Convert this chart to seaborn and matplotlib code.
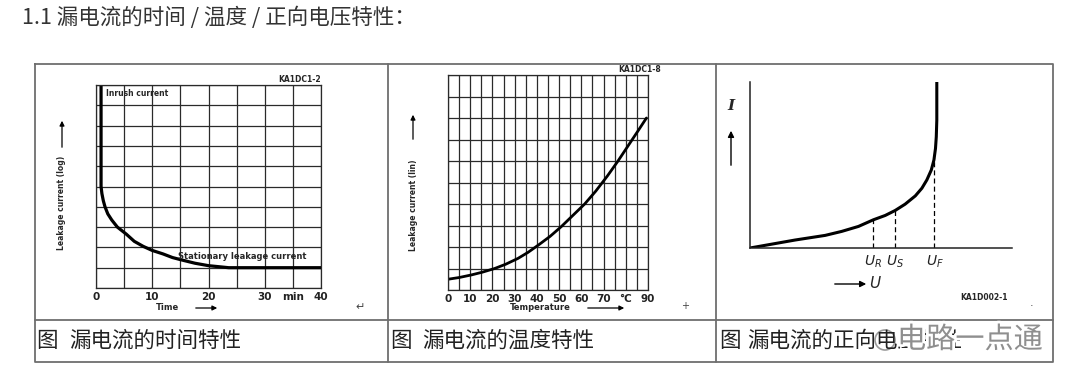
import numpy as np
import pandas as pd
import matplotlib
matplotlib.use("Agg")
import matplotlib.pyplot as plt
import seaborn as sns
from matplotlib import patheffects as pe
from matplotlib.patches import Circle

# ---------------- data ----------------
# chart 1: leakage current vs time (grid units)
time_min = [0.9, 0.9, 1.05, 1.3, 1.6, 2.1, 2.8, 3.8, 5.4, 6.8, 8.4, 10.0, 11.9, 13.6, 15.4, 17.6, 20.0, 23.6, 30.0, 40.0]
leak_time = [10.0, 5.0, 4.65, 4.3, 4.0, 3.65, 3.35, 3.0, 2.65, 2.3, 2.05, 1.85, 1.68, 1.5, 1.37, 1.22, 1.1, 1.0, 1.0, 1.0]

# chart 2: leakage current vs temperature (grid units)
temp_c = [0, 5, 10.5, 15.5, 21, 26, 31.5, 36, 40.8, 46, 51, 56, 61.5, 66.5, 71.7, 76.5, 81, 85.5, 89.3]
leak_temp = [0.5, 0.58, 0.7, 0.83, 1.0, 1.2, 1.47, 1.75, 2.1, 2.5, 2.95, 3.45, 4.0, 4.6, 5.3, 6.0, 6.7, 7.4, 8.0]

# chart 3: forward current vs forward voltage
volt_u = [0, 1.72, 2.87, 3.5, 4.14, 4.71, 5.16, 5.54, 5.92, 6.31, 6.56, 6.75, 6.92, 7.02, 7.08, 7.11, 7.13, 7.13]
curr_i = [0, 0.48, 0.76, 1.0, 1.3, 1.7, 1.96, 2.26, 2.64, 3.14, 3.6, 4.1, 4.7, 5.3, 6.0, 6.7, 7.7, 10.0]
mark_u = [4.71, 5.54, 7.04]
mark_i = [1.7, 2.26, 5.4]
mark_labels = ['$U_R$', '$U_S$', '$U_F$']

time_ticks = [0, 5, 10, 15, 20, 25, 30, 35, 40]
time_ticklabels = ['0', '', '10', '', '20', '', '30', 'min', '40']
temp_ticks = list(range(0, 95, 5))
temp_ticklabels = ['0', '', '10', '', '20', '', '30', '', '40', '', '50', '',
                   '60', '', '70', '', '°C', '', '90']
row_ticks = list(range(0, 11))

title_text = '1.1 漏电流的时间 / 温度 / 正向电压特性：'
captions = ['漏电流的时间特性', '漏电流的温度特性', '漏电流的正向电压特性']
watermark = '电路一点通'

# ---------------- style ----------------
sns.set_style("white")
plt.rcParams['font.family'] = ['Noto Sans CJK SC', 'DejaVu Sans']

W, H = 1080, 384
fig = plt.figure(figsize=(W / 100, H / 100), dpi=100)
fig.patch.set_facecolor('white')


def rect(l, t, r, b):
    return [l / W, 1 - b / H, (r - l) / W, (b - t) / H]


# background axes in pixel coordinates (table frame, captions, labels)
bg = fig.add_axes([0, 0, 1, 1], zorder=-1)
bg.set_xlim(0, W)
bg.set_ylim(H, 0)
bg.axis('off')

frame_c = '#6e6e6e'
bg.plot([35, 1053, 1053, 35, 35], [64, 64, 362, 362, 64], color=frame_c, lw=1.3)
bg.plot([35, 1053], [320, 320], color=frame_c, lw=1.3)
for xv in (388, 716):
    bg.plot([xv, xv], [64, 362], color=frame_c, lw=1.3)

bg.text(22, 18, title_text, fontsize=15.5, color='#333333', va='center', ha='left')

for (xa, xb), cap in zip([(36, 69), (390, 422), (719, 747)], captions):
    bg.text(xa, 341, '图', fontsize=15.5, color='#222222', va='center', ha='left')
    bg.text(xb, 341, cap, fontsize=15.5, color='#222222', va='center', ha='left')

# watermark
bg.add_patch(Circle((885, 340), 10, facecolor='white', edgecolor='#9a9a9a', lw=1.2))
bg.text(897, 340, watermark, fontsize=21, color='#8f8f8f', va='center', ha='left',
        path_effects=[pe.withStroke(linewidth=4, foreground='white')])

grid_c = '#2a2a2a'


def grid_axes(r, xlim, ticks, ticklabels):
    ax = fig.add_axes(r)
    ax.set_facecolor('none')
    ax.set_xlim(*xlim)
    ax.set_ylim(0, 10)
    ax.set_xticks(ticks)
    ax.set_xticklabels(ticklabels, fontsize=7.5, fontweight='bold', color='#222222',
                       family=['DejaVu Sans'])
    ax.set_yticks(row_ticks)
    ax.set_yticklabels([])
    ax.tick_params(length=0, pad=3)
    ax.grid(True, color=grid_c, lw=0.9)
    for s in ax.spines.values():
        s.set_visible(True)
        s.set_color(grid_c)
        s.set_linewidth(0.9)
    return ax


# ---------------- chart 1 ----------------
ax1 = grid_axes(rect(96, 85, 321, 288), (0, 40), time_ticks, time_ticklabels)
df1 = pd.DataFrame({'t': time_min, 'i': leak_time})
sns.lineplot(data=df1, x='t', y='i', ax=ax1, color='black', lw=2.3,
             estimator=None, sort=False)
ax1.set_xlabel('')
ax1.set_ylabel('')
ax1.text(1.8, 9.6, 'Inrush current', fontsize=5.5, fontweight='bold', va='center', ha='left',
         family=['DejaVu Sans'])
ax1.text(40, 10.05, 'KA1DC1-2', fontsize=5.5, fontweight='bold', va='bottom', ha='right',
         family=['DejaVu Sans'])
ax1.text(14.6, 1.55, 'Stationary leakage current', fontsize=6, fontweight='bold',
         va='center', ha='left', family=['DejaVu Sans'])

bg.text(62, 203, 'Leakage current (log)', rotation=90, fontsize=5.5, fontweight='bold',
        va='center', ha='center', family=['DejaVu Sans'])
bg.annotate('', xy=(62, 118), xytext=(62, 150),
            arrowprops=dict(arrowstyle='-|>', color='black', lw=0.9, mutation_scale=7))
bg.text(168, 308, 'Time', fontsize=6, fontweight='bold', va='center', ha='center',
        family=['DejaVu Sans'])
bg.annotate('', xy=(220, 308), xytext=(193, 308),
            arrowprops=dict(arrowstyle='-|>', color='black', lw=0.9, mutation_scale=7))
bg.text(360, 307, '↵', fontsize=8, color='#444444', va='center', ha='center',
        family=['DejaVu Sans'])

# ---------------- chart 2 ----------------
ax2 = grid_axes(rect(448, 75, 648, 290), (0, 90), temp_ticks, temp_ticklabels)
df2 = pd.DataFrame({'T': temp_c, 'i': leak_temp})
sns.lineplot(data=df2, x='T', y='i', ax=ax2, color='black', lw=2.0,
             estimator=None, sort=False)
ax2.set_xlabel('')
ax2.set_ylabel('')
ax2.text(96, 10.05, 'KA1DC1-8', fontsize=5.5, fontweight='bold', va='bottom', ha='right',
         family=['DejaVu Sans'])

bg.text(413, 205, 'Leakage current (lin)', rotation=90, fontsize=5.5, fontweight='bold',
        va='center', ha='center', family=['DejaVu Sans'])
bg.annotate('', xy=(413, 112), xytext=(413, 142),
            arrowprops=dict(arrowstyle='-|>', color='black', lw=0.9, mutation_scale=7))
bg.text(540, 308, 'Temperature', fontsize=6, fontweight='bold', va='center', ha='center',
        family=['DejaVu Sans'])
bg.annotate('', xy=(627, 308), xytext=(585, 308),
            arrowprops=dict(arrowstyle='-|>', color='black', lw=0.9, mutation_scale=7))
bg.text(685, 306, '+', fontsize=7, color='#444444', va='center', ha='center',
        family=['DejaVu Sans'])

# ---------------- chart 3 ----------------
ax3 = fig.add_axes(rect(750, 82, 1012, 248))
ax3.set_facecolor('none')
ax3.set_xlim(0, 10)
ax3.set_ylim(0, 10)
df3 = pd.DataFrame({'U': volt_u, 'I': curr_i})
sns.lineplot(data=df3, x='U', y='I', ax=ax3, color='black', lw=2.2,
             estimator=None, sort=False)
ax3.vlines(mark_u, 0, mark_i, colors='black', linestyles=(0, (4, 2.5)), lw=0.9)
ax3.set_xlabel('')
ax3.set_ylabel('')
ax3.set_xticks(mark_u)
ax3.set_xticklabels(mark_labels, fontsize=10, color='#222222')
ax3.set_yticks([])
ax3.tick_params(length=0, pad=4)
for side in ('top', 'right'):
    ax3.spines[side].set_visible(False)
for side in ('left', 'bottom'):
    ax3.spines[side].set_color('#222222')
    ax3.spines[side].set_linewidth(1.1)

bg.text(731, 106, 'I', fontsize=11, style='italic', fontweight='bold', va='center',
        ha='center', family=['DejaVu Serif'])
bg.annotate('', xy=(731, 128), xytext=(731, 168),
            arrowprops=dict(arrowstyle='-|>', color='black', lw=1.0, mutation_scale=9))
bg.annotate('', xy=(869, 284), xytext=(832, 284),
            arrowprops=dict(arrowstyle='-|>', color='black', lw=1.0, mutation_scale=9))
bg.text(875, 284, 'U', fontsize=11, style='italic', va='center', ha='center',
        family=['DejaVu Sans'])
bg.text(1008, 298, 'KA1D002-1', fontsize=5.5, fontweight='bold', va='center', ha='right',
        family=['DejaVu Sans'])
bg.text(1032, 306, '·', fontsize=8, color='#444444', va='center', ha='center',
        family=['DejaVu Sans'])

fig.savefig('out.png', dpi=100, facecolor='white')
